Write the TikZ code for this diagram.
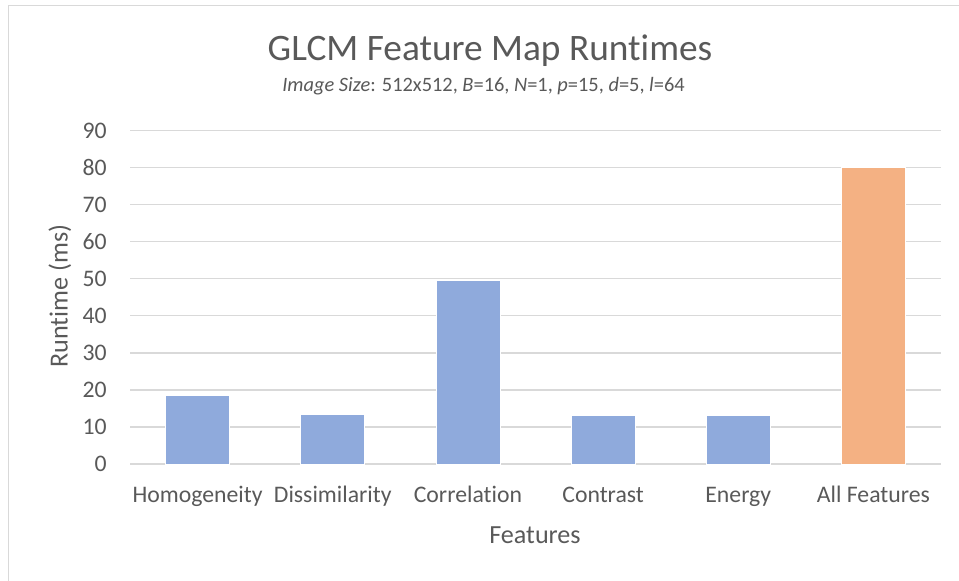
\documentclass[tikz,border=0pt]{standalone}
\usepackage{fontspec}
\setmainfont{Carlito}[Ligatures=NoCommon]
\definecolor{labelgray}{HTML}{595959}
\definecolor{gridgray}{HTML}{D9D9D9}
\definecolor{barblue}{HTML}{8FAADC}
\definecolor{barorange}{HTML}{F4B183}
\begin{document}
\begin{tikzpicture}[x=0.75pt,y=-0.75pt,
  gridline/.style={draw=gridgray,line width=0.9pt},
  tick/.style={anchor=east,text=labelgray,inner sep=0pt,font=\fontsize{17.8}{20}\selectfont},
  catlabel/.style={anchor=base,text=labelgray,inner sep=0pt,font=\fontsize{17.8}{20}\selectfont},
  axistitle/.style={anchor=base,text=labelgray,inner sep=0pt,font=\fontsize{19.6}{24}\selectfont},
  ]
\useasboundingbox (0,0) rectangle (959,581);
% chart frame (only left and top edges fall inside the page)
\draw[gridgray,line width=1pt] (8.5,590) -- (8.5,5.5) -- (970,5.5);
% horizontal gridlines and tick labels, 0..90 step 10
\foreach \v in {0,10,...,90}{
  \pgfmathsetmacro{\yy}{464-\v*3.7033}
  \draw[gridline] (130,\yy) -- (941,\yy);
  \node[tick] (t\v) at (107,\yy) {\v};
}
% bars
\foreach \i/\val/\col/\name in {0/18.6/barblue/homog,1/13.4/barblue/dissim,2/49.6/barblue/corr,3/13.1/barblue/contr,4/13.1/barblue/energy,5/80.2/barorange/all}{
  \pgfmathsetmacro{\xc}{130+135.17*(\i+0.5)}
  \pgfmathsetmacro{\yt}{464-\val*3.7033}
  \fill[\col,draw=white,line width=0.5pt] (\xc-32,464) rectangle (\xc+32,\yt);
  \coordinate (\name) at (\xc,502);
}
% category labels
\node[catlabel] (lh) at (homog) {Homogeneity};
\node[catlabel] (ld) at (dissim) {Dissimilarity};
\node[catlabel] (lc) at (corr) {Correlation};
\node[catlabel] (lt) at (contr) {Contrast};
\node[catlabel] (le) at (energy) {Energy};
\node[catlabel] (la) at (all) {All Features};
% axis titles
\node[axistitle] (xt) at (535,543) {Features};
\node[axistitle,rotate=90] (yt) at (67.7,296) {Runtime (ms)};
% chart title and subtitle
\node[anchor=base,text=labelgray,inner sep=0pt,font=\fontsize{28}{32}\selectfont] (title) at (490,60.7) {GLCM Feature Map Runtimes};
\node[anchor=base,text=labelgray,inner sep=0pt,font=\fontsize{15.3}{18}\selectfont] (sub) at (483.5,92) {\textit{Image Size}: 512x512, \textit{B}=16, \textit{N}=1, \textit{p}=15, \textit{d}=5, \textit{l}=64};
\end{tikzpicture}
\end{document}
